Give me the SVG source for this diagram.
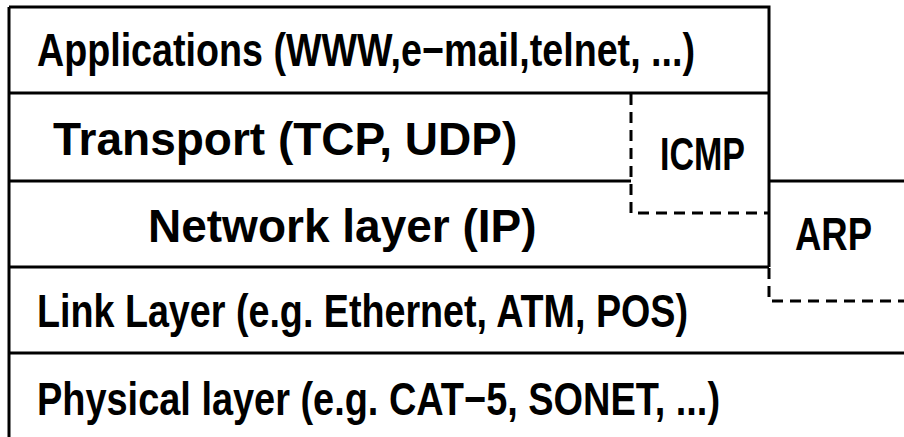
<svg xmlns="http://www.w3.org/2000/svg" width="904" height="437" viewBox="0 0 904 437">
<style>
.s{stroke:#000;stroke-width:3;fill:none}
.d{stroke:#000;stroke-width:3;fill:none;stroke-dasharray:11 7}
text{font-family:"Liberation Sans",Arial,sans-serif;font-weight:bold;font-size:46px;fill:#000}
</style>
<rect width="904" height="437" fill="#fff"/>
<g id="connectors">
<path class="s" d="M9,7 H769 V267 M9,7 V437 M9,93 H769 M9,181 H631 M769,181 H904 M9,267 H769 M9,353 H904"/>
<path class="d" d="M631,94 V213 H769 M769,268 V301 H904"/>
</g>
<g id="applications"><text x="37" y="66" textLength="658" lengthAdjust="spacingAndGlyphs">Applications (WWW,e−mail,telnet, ...)</text></g>
<g id="transport"><text x="53" y="155">Transport (TCP, UDP)</text></g>
<g id="icmp"><text x="660" y="170" textLength="85" lengthAdjust="spacingAndGlyphs">ICMP</text></g>
<g id="network"><text x="148" y="242">Network layer (IP)</text></g>
<g id="arp"><text x="795" y="250" textLength="77" lengthAdjust="spacingAndGlyphs">ARP</text></g>
<g id="link"><text x="37" y="327" textLength="651" lengthAdjust="spacingAndGlyphs">Link Layer (e.g. Ethernet, ATM, POS)</text></g>
<g id="physical"><text x="37" y="415" textLength="683" lengthAdjust="spacingAndGlyphs">Physical layer (e.g. CAT−5, SONET, ...)</text></g>
</svg>
